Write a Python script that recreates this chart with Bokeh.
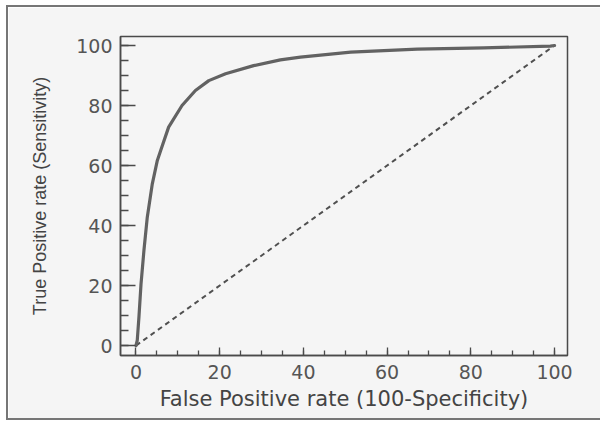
from bokeh.plotting import figure
from bokeh.models import Range1d, SingleIntervalTicker
from bokeh.embed import file_html
from bokeh.resources import INLINE

# ROC curve (percent)
fpr = [0, 0.3, 0.7, 1.2, 1.9, 2.7, 3.9, 5.1, 5.9, 7.8, 11.0, 14.2, 17.4, 21.4,
       28.1, 34.5, 39.3, 51.3, 67.2, 83.1, 99.0, 100]
tpr = [0, 1.7, 9.4, 20.5, 31.7, 42.8, 53.9, 61.7, 65.0, 72.8, 80.0, 85.0, 88.3, 90.6,
       93.3, 95.2, 96.1, 97.8, 98.8, 99.2, 99.8, 100]

# reference (chance) line
diag_x = [0, 100]
diag_y = [0, 100]

x_title = "False Positive rate (100-Specificity)"
y_title = "True Positive rate (Sensitivity)"

BG = "#f5f5f5"
FRAME = "#4a4a4a"
EDGE = "2px solid #767676"

p = figure(width=594, height=415, output_backend="svg", toolbar_location=None,
           x_range=Range1d(-3.7, 103.1), y_range=Range1d(-3.3, 103.0),
           min_border_left=112, min_border_right=35, min_border_top=29,
           min_border_bottom=67)
p.margin = (5, 0, 0, 6)
p.styles = {"border-left": EDGE, "border-top": EDGE, "border-bottom": EDGE,
            "border-right": "none"}
p.background_fill_color = BG
p.border_fill_color = BG
p.outline_line_color = FRAME
p.outline_line_width = 1.5
p.grid.visible = False

p.line(diag_x, diag_y, line_color="#505050", line_width=2, line_dash="5 4")
p.line(fpr, tpr, line_color="#626262", line_width=3.2, line_join="round", line_cap="round")

for ax in (p.xaxis[0], p.yaxis[0]):
    ax.ticker = SingleIntervalTicker(interval=20, num_minor_ticks=4)
    ax.axis_line_color = FRAME
    ax.axis_line_width = 1.5
    ax.major_tick_line_color = FRAME
    ax.minor_tick_line_color = FRAME
    ax.major_tick_line_width = 1.3
    ax.minor_tick_line_width = 1.3
    ax.major_tick_out = 0
    ax.minor_tick_out = 0
    ax.major_label_text_font = "DejaVu Sans"
    ax.major_label_text_font_size = "19px"
    ax.major_label_text_color = "#555555"
    ax.axis_label_text_font_style = "normal"
    ax.axis_label_text_color = "#444444"

xa = p.xaxis[0]
xa.major_tick_in = 8
xa.minor_tick_in = 5
xa.major_label_standoff = 9
xa.axis_label = x_title
xa.axis_label_text_font = "DejaVu Sans"
xa.axis_label_text_font_size = "21px"
xa.axis_label_standoff = 5

ya = p.yaxis[0]
ya.major_tick_in = 15
ya.minor_tick_in = 8
ya.major_label_standoff = 8
ya.axis_label = y_title
ya.axis_label_text_font = "Liberation Sans"
ya.axis_label_text_font_size = "18px"
ya.axis_label_standoff = 23

open("out.html", "w").write(file_html(p, INLINE))
